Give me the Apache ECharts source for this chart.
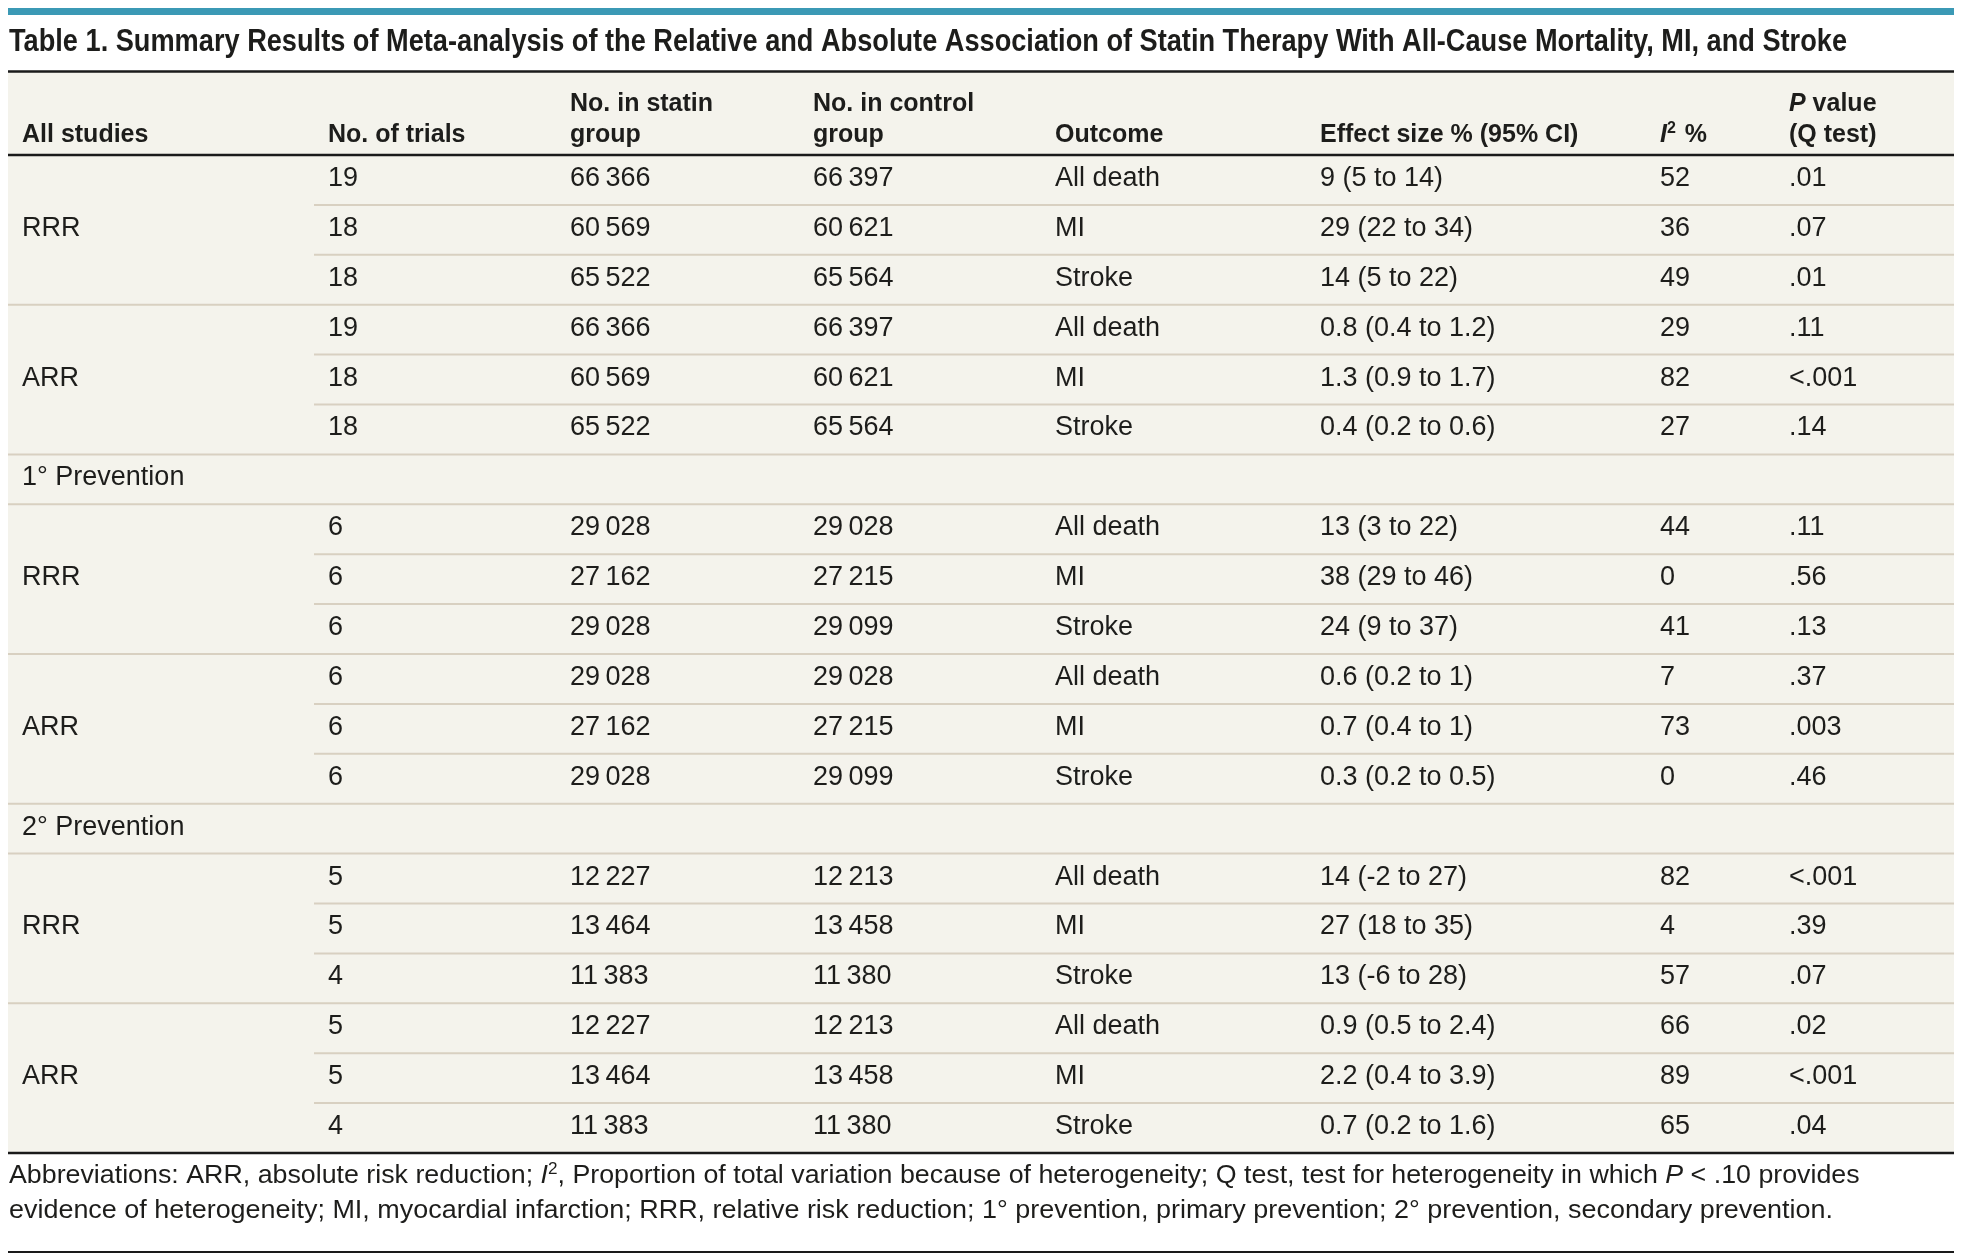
<!DOCTYPE html>
<html><head><meta charset="utf-8">
<script src="https://cdn.jsdelivr.net/npm/echarts@6/dist/echarts.min.js"></script>
<style>html,body{margin:0;padding:0;background:#fff}#c{width:1963px;height:1258px}</style>
</head><body><div id="c"></div>
<script>
// ---------- data ----------
const titleText = 'Table 1. Summary Results of Meta-analysis of the Relative and Absolute Association of Statin Therapy With All-Cause Mortality, MI, and Stroke';
const headLine1 = ['', '', 'No. in statin', 'No. in control', '', '', '', '{i|P}{n| value}'];
const headLine2 = ['All studies', 'No. of trials', 'group', 'group', 'Outcome', 'Effect size % (95% CI)', '{i|I}{s|2}{n| %}', '(Q test)'];
const blockLabels = [null, '1\u00b0 Prevention', '2\u00b0 Prevention'];
const measures = ['RRR', 'ARR'];
const outcomes = ['All death', 'MI', 'Stroke'];
const trials   = [19, 18, 18, 19, 18, 18,   6, 6, 6, 6, 6, 6,   5, 5, 4, 5, 5, 4];
const statinN  = [66366, 60569, 65522, 66366, 60569, 65522,   29028, 27162, 29028, 29028, 27162, 29028,   12227, 13464, 11383, 12227, 13464, 11383];
const controlN = [66397, 60621, 65564, 66397, 60621, 65564,   29028, 27215, 29099, 29028, 27215, 29099,   12213, 13458, 11380, 12213, 13458, 11380];
const effect   = [9, 29, 14, 0.8, 1.3, 0.4,   13, 38, 24, 0.6, 0.7, 0.3,   14, 27, 13, 0.9, 2.2, 0.7];
const ciLow    = [5, 22, 5, 0.4, 0.9, 0.2,   3, 29, 9, 0.2, 0.4, 0.2,   -2, 18, -6, 0.5, 0.4, 0.2];
const ciHigh   = [14, 34, 22, 1.2, 1.7, 0.6,   22, 46, 37, 1, 1, 0.5,   27, 35, 28, 2.4, 3.9, 1.6];
const i2       = [52, 36, 49, 29, 82, 27,   44, 0, 41, 7, 73, 0,   82, 4, 57, 66, 89, 65];
const pValue   = ['.01', '.07', '.01', '.11', '<.001', '.14',   '.11', '.56', '.13', '.37', '.003', '.46',   '<.001', '.39', '.07', '.02', '<.001', '.04'];
const footLine1 = '{n|Abbreviations: ARR, absolute risk reduction; }{i|I}{s|2}{n|, Proportion of total variation because of heterogeneity; Q test, test for heterogeneity in which }{i|P}{n| < .10 provides}';
const footLine2 = '{n|evidence of heterogeneity; MI, myocardial infarction; RRR, relative risk reduction; 1\u00b0 prevention, primary prevention; 2\u00b0 prevention, secondary prevention.}';

// ---------- layout ----------
const W = 1963, H = 1258;
const TL = 8, TR = 1954;
const colX = [22, 328, 570, 813, 1055, 1320, 1660, 1789];
const innerRuleX = 314;
const gridTop = 155, gridBottom = 1153;
const FONT = '"Liberation Sans", Arial, sans-serif';
const TXT = '#1d1d1b';
const FS_FOOT = 25;

const fmtN = n => String(n).replace(/\B(?=(\d{3})+(?!\d))/g, '\u2009');
const plain = s => s.replace(/\{[a-z]+\|/g, '').replace(/\}/g, '');
const mctx = document.createElement('canvas').getContext('2d');
function fit(text, font, target) { mctx.font = font; return target / mctx.measureText(text).width; }

// build rows
const rows = [];   // {type, fullTop}
const cells = [];  // {row, col, text}
for (let b = 0; b < 3; b++) {
  if (blockLabels[b]) {
    const r = rows.length;
    rows.push({ type: 'section', fullTop: true });
    cells.push({ row: r, col: 0, text: blockLabels[b] });
  }
  for (let m = 0; m < 2; m++) {
    for (let o = 0; o < 3; o++) {
      const i = b * 6 + m * 3 + o;
      const r = rows.length;
      const prevSection = r > 0 && rows[r - 1].type === 'section';
      rows.push({ type: 'data', fullTop: o === 0 || prevSection });
      if (o === 1) cells.push({ row: r, col: 0, text: measures[m] });
      cells.push({ row: r, col: 1, text: String(trials[i]) });
      cells.push({ row: r, col: 2, text: fmtN(statinN[i]) });
      cells.push({ row: r, col: 3, text: fmtN(controlN[i]) });
      cells.push({ row: r, col: 4, text: outcomes[o] });
      cells.push({ row: r, col: 5, text: effect[i] + ' (' + ciLow[i] + ' to ' + ciHigh[i] + ')' });
      cells.push({ row: r, col: 6, text: String(i2[i]) });
      cells.push({ row: r, col: 7, text: pValue[i] });
    }
  }
}
const rowKeys = rows.map((_, i) => 'r' + i);
const rules = [];
for (let r = 1; r < rows.length; r++) rules.push({ row: r, full: rows[r].fullTop });

// ---------- chart ----------
const chart = echarts.init(document.getElementById('c'), null, { renderer: 'canvas' });

const titleFont = 'bold 31px ' + FONT;
const titleScale = fit(titleText, titleFont, 1838);
const footFont = FS_FOOT + 'px ' + FONT;
const foot1Scale = fit(plain(footLine1), footFont, 1856);
const foot2Scale = fit(plain(footLine2), footFont, 1824);

const richHead = {
  n: { fontFamily: FONT, fontSize: 25, fontWeight: 'bold', fill: TXT, lineHeight: 28 },
  i: { fontFamily: FONT, fontSize: 25, fontWeight: 'bold', fontStyle: 'italic', fill: TXT, lineHeight: 28 },
  s: { fontFamily: FONT, fontSize: 16, fontWeight: 'bold', fill: TXT, lineHeight: 16, verticalAlign: 'top', padding: [0, 2, 0, 0] }
};
const richFoot = {
  n: { fontFamily: FONT, fontSize: FS_FOOT, fill: TXT, lineHeight: 28 },
  i: { fontFamily: FONT, fontSize: FS_FOOT, fontStyle: 'italic', fill: TXT, lineHeight: 28 },
  s: { fontFamily: FONT, fontSize: 16, fill: TXT, lineHeight: 16, verticalAlign: 'top' }
};

const graphics = [
  { type: 'rect', z: -10, shape: { x: 0, y: 0, width: W, height: H }, style: { fill: '#ffffff' } },
  { type: 'rect', z: -5, shape: { x: TL, y: 8, width: TR - TL, height: 7 }, style: { fill: '#3b99b5' } },
  { type: 'rect', z: -5, shape: { x: TL, y: 71, width: TR - TL, height: gridBottom - 71 }, style: { fill: '#f4f3ec' } },
  { type: 'text', z: 10, x: 9, y: 42.5, scaleX: titleScale,
    style: { text: titleText, fontFamily: FONT, fontSize: 31, fontWeight: 'bold', fill: TXT, verticalAlign: 'middle' } },
  { type: 'line', z: 20, shape: { x1: TL, y1: 71.5, x2: TR, y2: 71.5 }, style: { stroke: '#1a1a1a', lineWidth: 2.5 } },
  { type: 'line', z: 20, shape: { x1: TL, y1: gridTop, x2: TR, y2: gridTop }, style: { stroke: '#1a1a1a', lineWidth: 2.5 } },
  { type: 'line', z: 20, shape: { x1: TL, y1: gridBottom, x2: TR, y2: gridBottom }, style: { stroke: '#1a1a1a', lineWidth: 2.5 } },
  { type: 'line', z: 20, shape: { x1: TL, y1: 1252, x2: TR, y2: 1252 }, style: { stroke: '#1a1a1a', lineWidth: 2 } },
  { type: 'text', z: 10, x: 9, y: 1176, scaleX: foot1Scale,
    style: { text: footLine1, rich: richFoot, fontFamily: FONT, fontSize: FS_FOOT, fill: TXT, verticalAlign: 'middle' } },
  { type: 'text', z: 10, x: 9, y: 1211, scaleX: foot2Scale,
    style: { text: footLine2, rich: richFoot, fontFamily: FONT, fontSize: FS_FOOT, fill: TXT, verticalAlign: 'middle' } }
];
headLine1.forEach((t, c) => {
  if (!t) return;
  graphics.push({ type: 'text', z: 10, x: colX[c], y: 104.5,
    style: { text: t.indexOf('{') === 0 ? t : '{n|' + t + '}', rich: richHead, fontFamily: FONT, fontSize: 25, fontWeight: 'bold', fill: TXT, verticalAlign: 'middle' } });
});
headLine2.forEach((t, c) => {
  graphics.push({ type: 'text', z: 10, x: colX[c], y: 135,
    style: { text: t.indexOf('{') === 0 ? t : '{n|' + t + '}', rich: richHead, fontFamily: FONT, fontSize: 25, fontWeight: 'bold', fill: TXT, verticalAlign: 'middle' } });
});

chart.setOption({
  animation: false,
  backgroundColor: '#ffffff',
  grid: { left: 0, right: 0, top: gridTop, bottom: H - gridBottom, containLabel: false },
  xAxis: { type: 'value', min: 0, max: W, show: false },
  yAxis: { type: 'category', data: rowKeys, inverse: true, show: false },
  graphic: { elements: graphics },
  series: [
    {
      type: 'custom', name: 'rules', z: 3, silent: true,
      data: rules.map(d => [0, d.row]),
      renderItem: function (params, api) {
        const d = rules[params.dataIndex];
        const c = api.coord([0, d.row]);
        const band = api.size([0, 1])[1];
        const y = c[1] - band / 2;
        const x1 = api.coord([d.full ? TL : innerRuleX, d.row])[0];
        const x2 = api.coord([TR, d.row])[0];
        return { type: 'line', shape: { x1: x1, y1: y, x2: x2, y2: y }, style: { stroke: '#d8d0c1', lineWidth: 2 } };
      }
    },
    {
      type: 'custom', name: 'cells', z: 4, silent: true,
      data: cells.map(c => [colX[c.col], c.row]),
      renderItem: function (params, api) {
        const cell = cells[params.dataIndex];
        const p = api.coord([api.value(0), api.value(1)]);
        return { type: 'text', x: p[0], y: p[1] - 1.5,
          style: { text: cell.text, fontFamily: FONT, fontSize: 27, fill: TXT, verticalAlign: 'middle', align: 'left' } };
      }
    }
  ]
});
</script>
</body></html>
